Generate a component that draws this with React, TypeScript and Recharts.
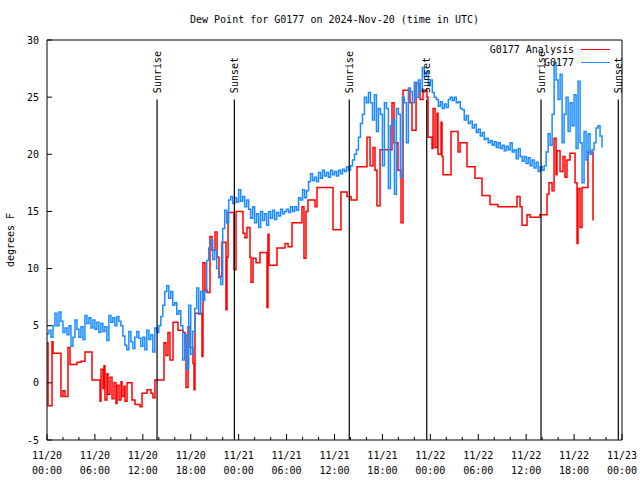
import React from 'react';
import { LineChart, Line, XAxis, YAxis, ReferenceLine, ReferenceDot, Legend } from 'recharts';

const TITLE = 'Dew Point for G0177 on 2024-Nov-20 (time in UTC)';
const Y_LABEL = 'degrees F';
const FONT = '"DejaVu Sans Mono", "Liberation Mono", monospace';

const Y_TICKS = [-5, 0, 5, 10, 15, 20, 25, 30];
const X_MAJOR_HOURS = [0, 6, 12, 18, 24, 30, 36, 42, 48, 54, 60, 66, 72];
const X_DATE_LABELS = ['11/20', '11/20', '11/20', '11/20', '11/21', '11/21', '11/21', '11/21', '11/22', '11/22', '11/22', '11/22', '11/23'];
const X_TIME_LABELS = ['00:00', '06:00', '12:00', '18:00', '00:00', '06:00', '12:00', '18:00', '00:00', '06:00', '12:00', '18:00', '00:00'];
const X_MINOR_HOURS = [0, 2, 4, 6, 8, 10, 12, 14, 16, 18, 20, 22, 24, 26, 28, 30, 32, 34, 36, 38, 40, 42, 44, 46, 48, 50, 52, 54, 56, 58, 60, 62, 64, 66, 68, 70, 72];

const SERIES_NAMES = ['G0177 Analysis', 'G0177'];
const SERIES_COLORS = ['#ff0000', '#1a8cff'];

const SUN_HOURS = [13.78, 23.46, 37.85, 47.55, 61.86, 71.54];
const SUN_LABELS = ['Sunrise', 'Sunset', 'Sunrise', 'Sunset', 'Sunrise', 'Sunset'];

// G0177 observations, every 0.25 h from 11/20 00:00
const BLUE_START = 0;
const BLUE_STEP = 0.25;
const blueValues = [
  4.3, 4.6, 4.0, 5.0, 6.1, 5.0, 6.2, 5.4,
  4.4, 4.8, 4.2, 5.0, 3.2, 4.0, 5.5, 4.7,
  4.0, 4.9, 3.8, 5.9, 5.2, 5.7, 4.8, 5.5,
  4.7, 5.3, 4.4, 5.2, 4.5, 4.9, 3.7, 5.9,
  5.3, 5.7, 5.0, 5.8, 5.4, 5.0, 4.1, 3.3,
  2.9, 4.5, 3.6, 3.0, 4.0, 4.5, 3.9, 3.2,
  4.0, 2.9, 4.6, 3.8, 4.2, 2.7, 4.8, 4.4,
  5.0, 5.8, 6.8, 8.0, 8.5, 7.4, 8.0, 6.8,
  7.0, 6.0, 6.3, 5.0, 2.0, 4.2, 1.2, 6.8,
  2.5, 4.5, 6.5, 8.3, 6.0, 8.0, 7.2, 8.0,
  10.7, 11.8, 12.5, 10.8, 11.6, 10.0, 9.2, 8.6,
  13.5, 15.1, 14.0, 16.0, 16.3, 15.7, 16.2, 15.8,
  16.9, 15.9, 16.3, 15.4, 16.0, 15.2, 14.4, 15.4,
  14.0, 14.8, 13.6, 15.0, 14.2, 14.8, 13.8, 15.0,
  14.4, 15.1, 14.3, 14.9, 14.6, 15.2, 14.8, 15.0,
  15.2, 14.9, 15.4, 15.0, 15.4, 15.1, 16.2, 16.0,
  16.9, 16.2, 16.8, 17.6, 18.3, 17.7, 18.0, 17.6,
  18.4, 17.9, 18.6, 18.1, 18.4, 18.0, 18.6, 18.2,
  18.5, 18.1, 18.6, 18.3, 18.7, 18.5, 18.9, 18.6,
  19.0, 19.5, 20.0, 20.4, 21.5, 22.7, 23.5, 25.0,
  24.5, 25.4, 24.5, 23.0, 25.2, 22.0, 24.0, 23.5,
  19.0, 24.5, 24.0, 17.0, 22.5, 23.0, 16.5, 24.0,
  23.5, 18.0, 25.0, 24.5, 21.0, 25.8, 25.5, 24.5,
  26.3, 25.0, 26.5, 25.5, 27.6, 26.8, 27.2, 26.0,
  26.5, 25.4, 25.0, 24.8, 24.2, 24.6, 24.0, 24.4,
  24.1, 24.8, 25.0, 24.7, 25.0, 24.5, 24.6, 24.0,
  23.9, 23.0, 23.4, 22.7, 22.9, 22.3, 22.6, 21.9,
  22.2, 21.6, 21.9, 21.3, 21.4, 21.0, 21.2, 20.8,
  21.1, 20.6, 21.0, 20.5, 20.8, 20.3, 20.7, 20.4,
  21.0, 20.2, 20.4, 19.6, 20.5, 19.8, 19.4, 19.8,
  19.2, 19.7, 19.0, 19.5, 18.8, 19.3, 18.5, 18.9,
  18.6, 19.0, 20.2, 21.8, 20.8, 23.5, 28.0, 26.5,
  24.8, 27.0, 21.0, 23.5, 25.0, 22.0, 24.5, 22.5,
  25.2, 20.5, 26.4, 21.0, 17.5, 22.0, 19.5, 21.8,
  20.0, 20.4, 21.0, 22.3, 22.5, 21.6, 20.6,
];

// G0177 Analysis (step changes)
const redHours = [
  0, 0.13, 0.63, 0.75, 1.75, 2.0, 2.25, 2.63, 2.88, 3.76,
  4.26, 4.76, 5.63, 6.64, 6.76, 7.01, 7.14, 7.26, 7.51, 7.64,
  7.89, 8.14, 8.39, 8.64, 8.77, 9.02, 9.27, 9.39, 9.64, 9.77,
  10.02, 10.64, 11.02, 11.65, 11.9, 12.52, 13.02, 13.27, 13.52, 14.65,
  14.9, 15.15, 15.4, 15.78, 16.4, 17.03, 17.28, 17.41, 17.66, 17.91,
  18.28, 18.41, 18.53, 19.41, 19.53, 19.78, 20.04, 20.41, 20.66, 21.04,
  21.29, 21.54, 21.91, 22.41, 22.54, 22.67, 23.42, 23.67, 24.54, 24.79,
  25.04, 25.42, 25.55, 25.8, 26.17, 26.67, 27.55, 27.67, 27.8, 28.8,
  29.8, 30.18, 30.68, 31.93, 32.18, 32.43, 32.68, 33.56, 33.81, 35.81,
  36.81, 37.57, 38.07, 38.82, 40.07, 40.45, 40.82, 41.07, 41.32, 41.7,
  43.2, 43.45, 43.95, 44.33, 44.58, 45.45, 45.7, 46.21, 46.71, 47.08,
  47.58, 47.71, 48.21, 48.34, 48.59, 48.84, 48.96, 49.34, 49.46, 49.59,
  50.59, 51.47, 51.72, 52.59, 53.59, 54.47, 55.47, 56.47, 58.85, 59.23,
  59.48, 60.11, 60.48, 61.73, 62.61, 62.86, 63.24, 63.49, 63.74, 63.86,
  64.24, 64.61, 64.86, 65.11, 65.49, 66.12, 66.37, 66.49, 66.74, 66.99,
  67.74, 68.37,
];
const redValues = [
  3.5, -2.0, 3.6, 2.6, -1.2, -0.7, -1.2, 3.1, 1.6, 1.8,
  1.9, 2.7, 0.25, -1.6, 1.2, -0.5, 1.5, -1.5, 0.8, -1.0,
  0.5, -1.4, 0.0, -1.8, -0.2, -1.5, 0.1, -1.2, -0.3, -1.6,
  0.0, -1.5, -1.9, -2.1, -0.9, -0.6, -0.9, -1.3, 0.25, 3.5,
  2.4, 4.4, 2.0, 5.3, 4.6, 4.4, 2.9, -0.4, 4.9, 3.1,
  1.7, -0.6, 6.1, 2.3, 10.5, 8.1, 7.9, 12.8, 11.6, 13.2,
  11.0, 9.3, 12.3, 6.4, 11.0, 14.9, 9.9, 15.0, 13.1, 12.7,
  13.6, 11.0, 8.8, 10.9, 10.5, 11.4, 6.6, 13.0, 10.3, 11.8,
  12.2, 11.9, 14.0, 15.4, 10.9, 15.0, 16.0, 15.4, 17.1, 13.4,
  16.7, 16.3, 16.0, 18.9, 21.5, 19.0, 20.6, 18.6, 15.5, 20.4,
  24.5, 21.0, 18.6, 14.0, 25.6, 24.5, 22.1, 26.2, 24.8, 25.6,
  25.0, 21.5, 20.5, 24.0, 20.6, 23.6, 20.0, 22.8, 19.8, 18.2,
  22.0, 20.2, 21.0, 18.9, 17.9, 16.4, 15.6, 15.4, 16.3, 15.4,
  13.8, 14.7, 14.5, 14.7, 16.5, 17.5, 16.8, 21.4, 18.2, 20.3,
  18.5, 19.8, 18.0, 19.5, 20.1, 17.5, 12.2, 17.0, 13.6, 17.1,
  20.2, 14.2,
];

const blueData = blueValues.map((v, i) => ({ t: BLUE_START + i * BLUE_STEP, v }));
const redData = redHours.map((t, i) => ({ t, v: redValues[i] }));

const BottomTick = (props: any) => {
  const { x, y, payload } = props;
  const idx = X_MAJOR_HOURS.indexOf(payload.value);
  const major = idx >= 0;
  return (
    <g>
      <line x1={x} x2={x} y1={y} y2={y - (major ? 6 : 3)} stroke="#000" strokeWidth={1} />
      {major && (
        <text x={x} y={y} textAnchor="middle" fontFamily={FONT} fontSize={10} fill="#000">
          <tspan x={x} dy={19}>{X_DATE_LABELS[idx]}</tspan>
          <tspan x={x} dy={15}>{X_TIME_LABELS[idx]}</tspan>
        </text>
      )}
    </g>
  );
};

const TopTick = (props: any) => {
  const { x, y, payload } = props;
  const major = X_MAJOR_HOURS.indexOf(payload.value) >= 0;
  return <line x1={x} x2={x} y1={y} y2={y + (major ? 6 : 3)} stroke="#000" strokeWidth={1} />;
};

const LegendContent = (props: any) => {
  const payload = [...(props.payload || [])].sort(
    (a: any, b: any) => SERIES_NAMES.indexOf(a.value) - SERIES_NAMES.indexOf(b.value)
  );
  return (
    <div style={{ fontFamily: FONT, fontSize: 10, color: '#000' }}>
      {payload.map((p: any) => (
        <div key={p.value} style={{ display: 'flex', justifyContent: 'flex-end', alignItems: 'center', height: 13 }}>
          <span style={{ whiteSpace: 'pre', lineHeight: '13px' }}>{p.value}</span>
          <div style={{ width: 29, height: 0, borderTop: `1.5px solid ${p.color}`, marginLeft: 7 }} />
        </div>
      ))}
    </div>
  );
};

const SunLabel = (label: string) => (props: any) => (
  <text
    transform={`translate(${props.cx},${props.cy - 4}) rotate(-90)`}
    x={0}
    y={0}
    dy="0.35em"
    textAnchor="start"
    fontFamily={FONT}
    fontSize={10}
    fill="#000"
  >
    {label}
  </text>
);

export default function App() {
  return (
    <div style={{ position: 'fixed', left: 0, top: 0, width: 640, height: 480, background: '#fff' }}>
      <div
        style={{
          position: 'absolute', left: 47, top: 14, width: 575, textAlign: 'center',
          fontFamily: FONT, fontSize: 10, lineHeight: '12px', color: '#000', whiteSpace: 'pre',
        }}
      >
        {TITLE}
      </div>
      <LineChart width={640} height={480} margin={{ top: 39, right: 17, bottom: 0, left: 0 }}>
        <XAxis
          xAxisId="t"
          orientation="top"
          type="number"
          domain={[0, 72]}
          ticks={X_MINOR_HOURS}
          interval={0}
          height={1}
          tickSize={0}
          tickMargin={0}
          tickLine={false}
          tick={<TopTick />}
          axisLine={{ stroke: '#000', strokeWidth: 1 }}
          allowDataOverflow
        />
        <XAxis
          xAxisId="b"
          dataKey="t"
          type="number"
          domain={[0, 72]}
          ticks={X_MINOR_HOURS}
          interval={0}
          height={40}
          tickSize={0}
          tickMargin={0}
          tickLine={false}
          tick={<BottomTick />}
          axisLine={{ stroke: '#000', strokeWidth: 1 }}
          allowDataOverflow
        />
        <YAxis
          yAxisId="l"
          type="number"
          domain={[-5, 30]}
          ticks={Y_TICKS}
          interval={0}
          width={47}
          tickSize={-5}
          tickMargin={13}
          tickLine={{ stroke: '#000' }}
          axisLine={{ stroke: '#000', strokeWidth: 1 }}
          tick={{ fontFamily: FONT, fontSize: 10, fill: '#000' }}
          allowDataOverflow
          label={(p: any) => (
            <text
              transform={`translate(10,${p.viewBox.y + p.viewBox.height / 2}) rotate(-90)`}
              textAnchor="middle"
              dy="0.35em"
              fontFamily={FONT}
              fontSize={10}
              fill="#000"
            >
              {Y_LABEL}
            </text>
          )}
        />
        <YAxis
          yAxisId="r"
          orientation="right"
          type="number"
          domain={[-5, 30]}
          ticks={Y_TICKS}
          interval={0}
          width={1}
          tickSize={-5}
          tick={false}
          tickLine={{ stroke: '#000' }}
          axisLine={{ stroke: '#000', strokeWidth: 1 }}
          allowDataOverflow
        />
        <Legend
          layout="horizontal"
          verticalAlign="middle"
          align="center"
          content={<LegendContent />}
          wrapperStyle={{ top: 43, right: 30, left: 'auto', width: 'auto' }}
        />
        <Line
          xAxisId="b"
          yAxisId="l"
          data={redData}
          dataKey="v"
          name={SERIES_NAMES[0]}
          type="stepAfter"
          stroke={SERIES_COLORS[0]}
          strokeWidth={1.5}
          dot={false}
          activeDot={false}
          isAnimationActive={false}
        />
        <Line
          xAxisId="b"
          yAxisId="l"
          data={blueData}
          dataKey="v"
          name={SERIES_NAMES[1]}
          type="stepAfter"
          stroke={SERIES_COLORS[1]}
          strokeWidth={1.5}
          dot={false}
          activeDot={false}
          isAnimationActive={false}
        />
        {SUN_HOURS.map((t, i) => (
          <ReferenceLine
            key={`l${i}`}
            xAxisId="b"
            yAxisId="l"
            segment={[{ x: t, y: -5 }, { x: t, y: 24.8 }]}
            stroke="#000"
            strokeWidth={1.2}
            ifOverflow="visible"
          />
        ))}
        {SUN_HOURS.map((t, i) => (
          <ReferenceDot
            key={`d${i}`}
            xAxisId="b"
            yAxisId="l"
            x={t}
            y={25}
            r={0}
            ifOverflow="visible"
            shape={SunLabel(SUN_LABELS[i])}
          />
        ))}
      </LineChart>
    </div>
  );
}
